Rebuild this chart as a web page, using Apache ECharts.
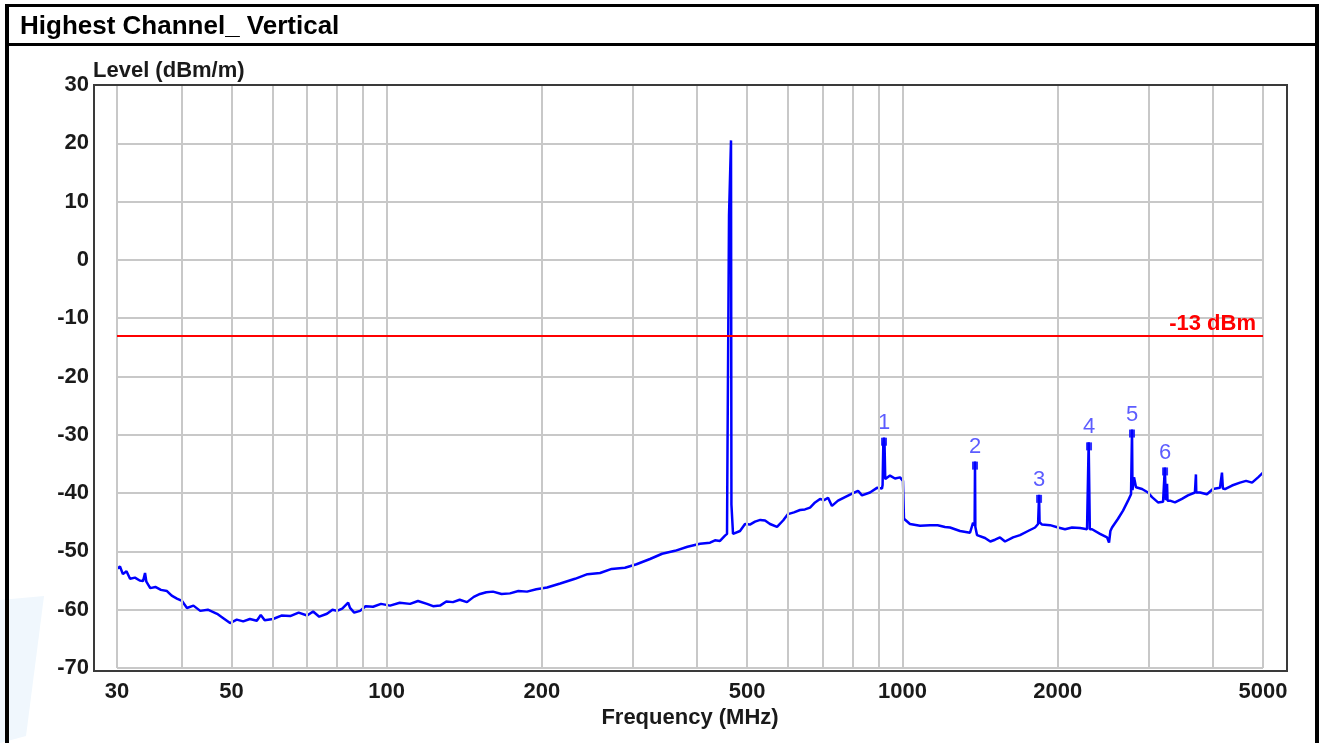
<!DOCTYPE html>
<html>
<head>
<meta charset="utf-8">
<script src="https://cdn.jsdelivr.net/npm/echarts@6/dist/echarts.min.js"></script>
<style>
html,body{margin:0;padding:0;background:#fff;}
#chart{width:1322px;height:743px;}
</style>
</head>
<body>
<div id="chart"></div>
<script>
// ---- data ----
const titleText = 'Highest Channel_ Vertical';
const freq = [
 30,30.4,30.8,31.3,31.8,32.5,33.2,33.7,34.0,34.2,34.8,35.6,36.5,37.5,38.3,39.2,40.1,41.0,42.2,43.5,
 45.0,46.9,48.3,49.7,51.2,52.7,54.3,56.0,57.0,58.0,60.2,62.5,65.0,67.5,70.1,72.0,74.0,76.6,78.5,80.1,
 82.0,84.2,84.9,86.5,88.8,91.0,94.1,97.5,101.5,106,111,115,119.7,123,126.9,130.5,134.4,138.5,143.1,147.5,
 151.7,156,160.7,167,173.4,180,187.1,195,204.6,217,231.8,245,259.2,273,289.7,305,324,342,362.2,383,
 405,423.5,433,442.8,452.8,456.9,457.5,460,461,463,465.1,466,467.2,469.3,473.5,484.2,495.1,506,517.7,530,
 541.4,553.6,571.2,586.8,599.8,616,633,647,661.9,676.9,692.1,705,717.3,729.9,749.9,773.7,798.4,820,834.6,864.9,
 892.4,912.6,915,918,920.9,923,926,929.2,945.8,967.1,989,1002.2,1006.7,1034,1081.4,1131,1170,1209,1236.4,1292.8,
 1351.8,1370,1376.1,1380,1382.3,1384.5,1394.7,1445.5,1480,1511.6,1545.6,1580.6,1638.1,1690.1,1751.7,1807.4,1831.8,1836,1840,1844,
 1864.7,1932.6,2002.8,2066,2131.8,2209.3,2279.3,2292,2296,2303,2308,2330.8,2415.5,2492.2,2514.6,2530,2548.5,2617.6,2676.7,2737.1,
 2773.9,2780,2786.3,2792,2811.3,2836.4,2913.8,2992.6,3046.5,3129.2,3200.4,3222,3226,3233,3240,3258,3265,3300.9,3374.9,3481.9,
 3576.6,3689.6,3700,3706.2,3712,3772.9,3892.8,3998.6,4126,4163,4180,4219,4354,4512,4636,4762,4891,5000
];
const level = [
 -53.0,-52.6,-53.9,-53.4,-54.7,-54.5,-55.0,-55.1,-53.7,-55.2,-56.3,-56.1,-56.6,-56.8,-57.6,-58.1,-58.5,-59.7,-59.3,-60.2,
 -60.0,-60.7,-61.5,-62.3,-61.7,-62.0,-61.6,-61.9,-60.9,-61.8,-61.6,-61.0,-61.1,-60.5,-61.0,-60.3,-61.2,-60.7,-60.0,-60.2,
 -59.8,-58.8,-59.7,-60.5,-60.2,-59.4,-59.5,-59.0,-59.3,-58.8,-59.0,-58.5,-59.0,-59.4,-59.3,-58.6,-58.7,-58.3,-58.7,-57.8,
 -57.3,-57.0,-56.9,-57.3,-57.2,-56.8,-56.9,-56.5,-56.2,-55.5,-54.7,-53.9,-53.7,-53.0,-52.8,-52.2,-51.3,-50.4,-49.9,-49.2,
 -48.7,-48.5,-48.1,-48.2,-47.3,-47.0,-37.8,-37.8,7.7,7.7,20.5,-42,-42,-47,-46.8,-46.5,-45.3,-45.4,-44.9,-44.6,
 -44.7,-45.3,-45.8,-44.7,-43.6,-43.3,-42.9,-42.8,-42.5,-41.6,-41.0,-41.2,-40.8,-42.2,-41.3,-40.7,-40.1,-39.6,-40.4,-39.9,
 -39.1,-39.2,-38.6,-31.5,-30.5,-31.5,-37.6,-37.4,-37.0,-37.5,-37.3,-37.9,-44.4,-45.3,-45.6,-45.5,-45.5,-45.8,-45.9,-46.5,
 -46.8,-45.1,-45.1,-45.5,-34.6,-45.8,-47.2,-47.7,-48.3,-48.0,-47.6,-48.3,-47.6,-47.2,-46.5,-45.9,-45.3,-45.2,-40.3,-45.0,
 -45.4,-45.5,-45.9,-46.2,-45.9,-46.0,-46.2,-46.2,-31.3,-31.3,-46.2,-46.2,-47.0,-47.6,-48.5,-46.5,-45.9,-44.4,-43.0,-41.3,
 -40.2,-40.0,-29.1,-39.5,-37.3,-39.0,-39.3,-39.9,-40.7,-41.6,-41.5,-41.4,-35.6,-35.6,-41.2,-38.4,-41.3,-41.3,-41.6,-41.0,
 -40.4,-39.9,-39.9,-36.8,-39.9,-39.9,-40.2,-39.3,-39.1,-36.5,-39.2,-39.3,-38.7,-38.2,-37.9,-38.2,-37.3,-36.5
];
const markerFreq  = [920.9, 1382.3, 1840, 2299.8, 2786.3, 3229.2];
const markerLevel = [-30.5, -34.6, -40.3, -31.3, -29.1, -35.6];
const markerLabel = ['1', '2', '3', '4', '5', '6'];
const gridFreqs = [30,40,50,60,70,80,90,100,200,300,400,500,600,700,800,900,1000,2000,3000,4000,5000];
const xTickLabels = [30,50,100,200,500,1000,2000,5000];
const yMin = -70, yMax = 30, yStep = 10;
const limitLevel = -13;
const limitText = '-13 dBm';
const xName = 'Frequency (MHz)';
const yName = 'Level (dBm/m)';

// ---- chart ----
const FONT = '"Liberation Sans", Arial, sans-serif';
const chart = echarts.init(document.getElementById('chart'), null, {renderer: 'canvas'});
const trace = freq.map((f, i) => [f, level[i]]);
const markers = markerFreq.map((f, i) => ({value: [f, markerLevel[i]], name: markerLabel[i]}));

const option = {
  animation: false,
  textStyle: {fontFamily: FONT},
  grid: {left: 117, right: 59, top: 85, bottom: 75},
  graphic: [
    {type: 'polygon', silent: true, z: 0, shape: {points: [[0,600],[44,596],[26,736],[0,743]]},
     style: {fill: '#f0f7fd'}},
    {type: 'line', silent: true, shape: {x1: 7, y1: 4, x2: 7, y2: 743}, style: {stroke: '#000', lineWidth: 4}},
    {type: 'line', silent: true, shape: {x1: 5, y1: 5.5, x2: 1319, y2: 5.5}, style: {stroke: '#000', lineWidth: 3}},
    {type: 'line', silent: true, shape: {x1: 1317, y1: 4, x2: 1317, y2: 743}, style: {stroke: '#000', lineWidth: 4}},
    {type: 'line', silent: true, shape: {x1: 7, y1: 44.5, x2: 1317, y2: 44.5}, style: {stroke: '#000', lineWidth: 3}},
    {type: 'text', silent: true, x: 20, y: 27,
     style: {text: titleText, font: 'bold 26px ' + FONT, fill: '#000', verticalAlign: 'middle'}},
    {type: 'rect', silent: true, z: 50, shape: {x: 94, y: 85, width: 1193, height: 586},
     style: {fill: null, stroke: '#3a3a3a', lineWidth: 2}}
  ],
  xAxis: {
    type: 'log', logBase: 10, min: 30, max: 5000,
    axisLine: {show: false}, axisTick: {show: false}, splitLine: {show: false}, minorTick: {show: false},
    axisLabel: {customValues: xTickLabels, formatter: v => String(Math.round(v)),
                fontSize: 22, fontWeight: 'bold', color: '#1a1a1a', margin: 13, fontFamily: FONT},
    name: xName, nameLocation: 'middle', nameGap: 39, nameMoveOverlap: false,
    nameTextStyle: {fontSize: 22, fontWeight: 'bold', color: '#1a1a1a', fontFamily: FONT}
  },
  yAxis: {
    type: 'value', min: yMin, max: yMax, interval: yStep,
    axisLine: {show: false}, axisTick: {show: false},
    splitLine: {show: true, lineStyle: {color: '#c8c8c8', width: 2}},
    axisLabel: {fontSize: 22, fontWeight: 'bold', color: '#1a1a1a', margin: 28, fontFamily: FONT},
    name: yName, nameLocation: 'end', nameGap: 14, nameMoveOverlap: false,
    nameTextStyle: {fontSize: 22, fontWeight: 'bold', color: '#1a1a1a', align: 'left', verticalAlign: 'middle',
                    padding: [0, 0, 0, -24], fontFamily: FONT}
  },
  series: [
    {
      name: 'grid', type: 'line', data: [], z: 1, silent: true,
      markLine: {
        silent: true, symbol: ['none', 'none'], animation: false,
        label: {show: false},
        lineStyle: {color: '#c8c8c8', width: 2, type: 'solid'},
        data: gridFreqs.map(f => ({xAxis: f}))
      }
    },
    {
      name: 'limit', type: 'line', data: [], z: 2, silent: true,
      markLine: {
        silent: true, symbol: ['none', 'none'], animation: false,
        lineStyle: {color: '#ff0000', width: 2, type: 'solid'},
        label: {show: true, position: 'insideEndTop', formatter: limitText, color: '#ff0000',
                fontSize: 22, fontWeight: 'bold', fontFamily: FONT, distance: [7, 1]},
        data: [{yAxis: limitLevel}]
      }
    },
    {
      name: 'level', type: 'line', data: trace, z: 3, showSymbol: false, symbol: 'none',
      lineStyle: {color: '#0000ff', width: 2.5}, silent: true
    },
    {
      name: 'markers', type: 'scatter', data: markers, z: 4, silent: true,
      symbol: 'rect', symbolSize: [6, 8], symbolOffset: [0, 4],
      itemStyle: {color: '#0000ff'},
      label: {show: true, position: 'top', distance: 4, formatter: p => p.name,
              color: '#3333ff', fontSize: 22, fontFamily: FONT}
    }
  ]
};
chart.setOption(option);
</script>
</body>
</html>
